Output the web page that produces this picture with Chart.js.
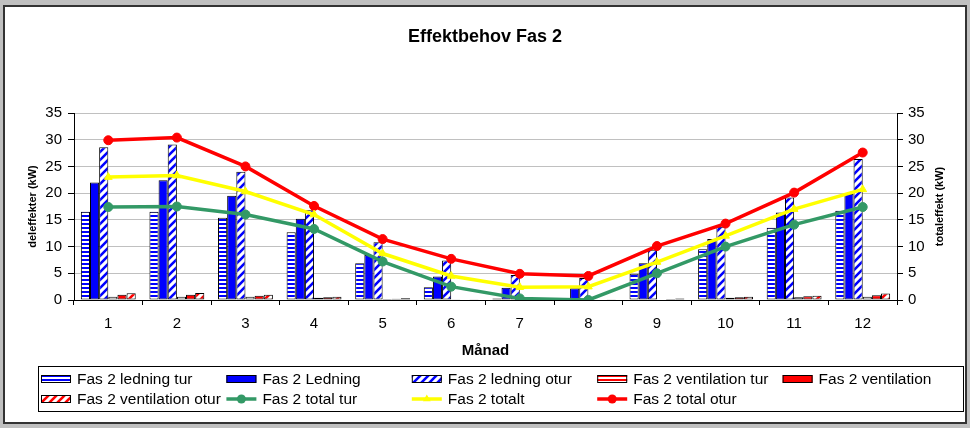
<!DOCTYPE html>
<html>
<head>
<meta charset="utf-8">
<title>Effektbehov Fas 2</title>
<script src="https://cdn.jsdelivr.net/npm/chart.js@4.4.1/dist/chart.umd.min.js"></script>
<style>
  body { margin: 0; background: #c0c0c0; }
  #frame {
    position: absolute; left: 3px; top: 5px;
    width: 960px; height: 415px;
    border: 2px solid #333; background: #fff;
  }
  canvas { display: block; }
</style>
</head>
<body>
<div id="frame"><canvas id="effekt-chart" width="960" height="415"></canvas></div>
<script>
/* ============ DATA (kW per månad) ============ */

const months = ["1", "2", "3", "4", "5", "6", "7", "8", "9", "10", "11", "12"];
const yTicks = [0, 5, 10, 15, 20, 25, 30, 35];

const ledningTur = [16.5, 16.5, 15.4, 12.7, 6.9, 2.4, 0.3, 0.0, 4.9, 9.5, 13.5, 16.7];
const ledning = [22.0, 22.4, 19.5, 15.2, 8.4, 4.4, 2.3, 2.2, 6.9, 11.4, 16.4, 19.9];
const ledningOtur = [28.6, 29.1, 24.0, 16.8, 10.8, 7.4, 4.7, 4.1, 9.4, 13.7, 19.2, 26.4];
const ventTur = [0.6, 0.6, 0.6, 0.4, 0.2, 0.05, 0.0, 0.0, 0.1, 0.4, 0.5, 0.6];
const vent = [1.0, 1.0, 0.8, 0.5, 0.25, 0.1, 0.05, 0.0, 0.2, 0.5, 0.7, 0.9];
const ventOtur = [1.25, 1.3, 1.0, 0.6, 0.35, 0.15, 0.1, 0.05, 0.3, 0.6, 0.8, 1.2];
const totalTur = [17.4, 17.5, 16.0, 13.3, 7.2, 2.5, 0.3, 0.0, 5.0, 10.0, 14.1, 17.4];
const totalt = [23.0, 23.3, 20.3, 16.0, 8.7, 4.5, 2.4, 2.5, 7.1, 12.0, 17.0, 20.7];
const totalOtur = [29.9, 30.4, 25.0, 17.6, 11.4, 7.7, 4.9, 4.5, 10.1, 14.3, 20.1, 27.6];

/* ============ PATTERNS ============ */

const effektCanvas = document.getElementById("effekt-chart");
const ctx = effektCanvas.getContext("2d");

// horizontal stripes
function hStripes(color) {
  const c = document.createElement("canvas");
  c.width = 4; c.height = 4;
  const g = c.getContext("2d");
  g.fillStyle = "#fff"; g.fillRect(0, 0, 4, 4);
  g.fillStyle = color; g.fillRect(0, 0, 4, 2);
  return ctx.createPattern(c, "repeat");
}

// diagonal "/" stripes
function dStripes(color) {
  const s = 8;
  const c = document.createElement("canvas");
  c.width = s; c.height = s;
  const g = c.getContext("2d");
  g.fillStyle = "#fff"; g.fillRect(0, 0, s, s);
  g.strokeStyle = color; g.lineWidth = 2.6;
  g.beginPath();
  for (let k = -1; k <= 1; k++) {
    g.moveTo(k * s - 1, s + 1);
    g.lineTo(k * s + s + 1, -1);
  }
  g.stroke();
  return ctx.createPattern(c, "repeat");
}

const BLUE = "#0000ff";
const RED = "#ff0000";
const GREEN = "#339966";
const YELLOW = "#ffff00";

function barSet(label, data, fill) {
  return {
    type: "bar", label: label, data: data, yAxisID: "y",
    backgroundColor: fill, borderColor: "#000", borderWidth: 1,
    borderSkipped: false, order: 1,
  };
}

function lineSet(label, data, color, style) {
  return {
    type: "line", label: label, data: data, yAxisID: "y2",
    borderColor: color, backgroundColor: color, borderWidth: 3.5,
    pointStyle: style, pointRadius: 4.5, pointBorderWidth: 1,
    pointBorderColor: color, pointBackgroundColor: color,
    tension: 0, fill: false, order: 0,
  };
}

const datasets = [
  barSet("Fas 2 ledning tur", ledningTur, hStripes(BLUE)),
  barSet("Fas 2 Ledning", ledning, BLUE),
  barSet("Fas 2 ledning otur", ledningOtur, dStripes(BLUE)),
  barSet("Fas 2 ventilation tur", ventTur, hStripes(RED)),
  barSet("Fas 2 ventilation", vent, RED),
  barSet("Fas 2 ventilation otur", ventOtur, dStripes(RED)),
  lineSet("Fas 2 total tur", totalTur, GREEN, "circle"),
  lineSet("Fas 2 totalt", totalt, YELLOW, "triangle"),
  lineSet("Fas 2 total otur", totalOtur, RED, "circle"),
];

/* ============ TITLES + LEGEND ============ */

const extras = {
  id: "extras",
  afterDraw(chart) {
    const c = chart.ctx;
    const area = chart.chartArea;
    const font = '"Liberation Sans", Arial, sans-serif';
    c.save();
    c.fillStyle = "#000";
    c.textAlign = "center";
    c.textBaseline = "middle";

    // axis titles
    const midY = (area.top + area.bottom) / 2;
    c.font = "bold 11px " + font;
    [[28, "deleffekter (kW)"], [935, "totaleffekt (kW)"]].forEach(([x, t]) => {
      c.save();
      c.translate(x, midY);
      c.rotate(-Math.PI / 2);
      c.fillText(t, 0, 0);
      c.restore();
    });
    c.font = "bold 15px " + font;
    c.fillText("Månad", (area.left + area.right) / 2, 344);

    // legend box
    c.strokeStyle = "#000";
    c.lineWidth = 1;
    c.strokeRect(33.5, 359.5, 925, 45);

    c.font = "15.5px " + font;
    c.textAlign = "left";
    chart.data.datasets.forEach((ds, i) => {
      const x = 36 + (i % 5) * 185.4;
      const y = i < 5 ? 372 : 392;
      if (ds.type === "bar") {
        c.fillStyle = ds.backgroundColor;
        c.fillRect(x, y - 4, 30, 8);
        c.strokeStyle = "#000";
        c.strokeRect(x + 0.5, y - 3.5, 29, 7);
      } else {
        c.strokeStyle = ds.borderColor;
        c.lineWidth = 3.5;
        c.beginPath();
        c.moveTo(x, y);
        c.lineTo(x + 30, y);
        c.stroke();
        c.lineWidth = 1;
        c.fillStyle = ds.borderColor;
        Chart.helpers.drawPoint(c, { pointStyle: ds.pointStyle, radius: 4.5, borderWidth: 0 }, x + 15, y);
      }
      c.fillStyle = "#000";
      c.fillText(ds.label, x + 36, y + 1);
    });
    c.restore();
  },
};

/* ============ CHART ============ */

Chart.defaults.font.family = '"Liberation Sans", Arial, sans-serif';
Chart.defaults.color = "#000";

const yAxis = (side, pad) => ({
  type: "linear",
  position: side,
  min: 0,
  max: 35,
  afterBuildTicks: (scale) => { scale.ticks = yTicks.map((v) => ({ value: v })); },
  afterFit: (scale) => { scale.width = side === "left" ? 69 : 68; },
  ticks: { font: { size: 15 }, padding: pad, color: "#000" },
  grid: {
    display: true,
    drawOnChartArea: side === "left",
    color: "#c0c0c0",
    tickColor: "#000",
    tickLength: 6,
  },
  border: { color: "#000", width: 1 },
});

const effektChart = new Chart(effektCanvas, {
  data: { labels: months, datasets: datasets },
  plugins: [extras],
  options: {
    responsive: false,
    animation: false,
    layout: { padding: 0 },
    datasets: { bar: { categoryPercentage: 0.8, barPercentage: 1 } },
    scales: {
      x: {
        offset: true,
        afterFit: (scale) => { scale.height = 122; },
        ticks: { font: { size: 15 }, padding: 10, color: "#000" },
        grid: {
          offset: true,
          drawOnChartArea: false,
          tickColor: "#000",
          tickLength: 5,
        },
        border: { color: "#000", width: 1 },
      },
      y: yAxis("left", 6),
      y2: yAxis("right", 5),
    },
    plugins: {
      legend: { display: false },
      tooltip: { enabled: false },
      title: {
        display: true,
        text: "Effektbehov Fas 2",
        font: { size: 18, weight: "bold" },
        color: "#000",
        padding: { top: 19.5, bottom: 64.9 },
      },
    },
  },
});
</script>
</body>
</html>
